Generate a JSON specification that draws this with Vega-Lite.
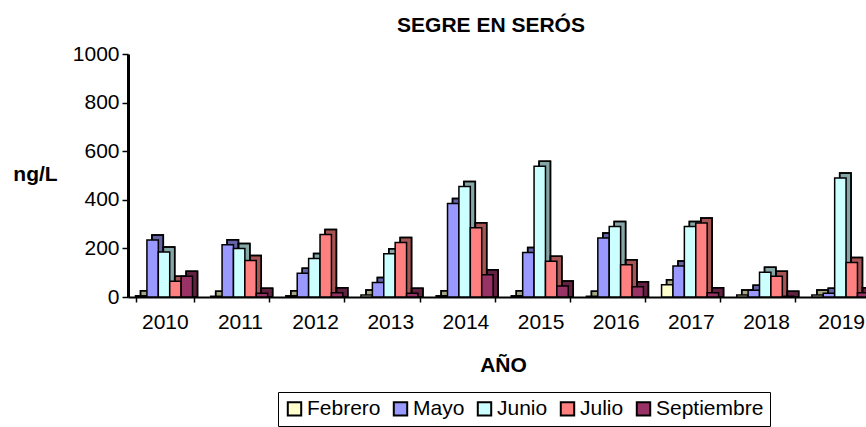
{
  "$schema": "https://vega.github.io/schema/vega-lite/v6.json",
  "autosize": "none",
  "width": 750,
  "height": 243,
  "padding": {"left": 128, "top": 54, "right": 0, "bottom": 130},
  "background": "white",
  "config": {
    "font": "Liberation Sans",
    "view": {"stroke": null}
  },
  "title": {
    "text": "SEGRE EN SERÓS",
    "font": "Liberation Sans",
    "fontSize": 21,
    "fontWeight": "bold",
    "color": "black",
    "anchor": "middle",
    "offset": 7,
    "dx": -12
  },
  "data": {
    "values": [
      {"year": "2010", "mes": "Febrero", "v": 5},
      {"year": "2010", "mes": "Mayo", "v": 235},
      {"year": "2010", "mes": "Junio", "v": 185},
      {"year": "2010", "mes": "Julio", "v": 65},
      {"year": "2010", "mes": "Septiembre", "v": 85},
      {"year": "2011", "mes": "Febrero", "v": 3},
      {"year": "2011", "mes": "Mayo", "v": 215},
      {"year": "2011", "mes": "Junio", "v": 200},
      {"year": "2011", "mes": "Julio", "v": 150},
      {"year": "2011", "mes": "Septiembre", "v": 15},
      {"year": "2012", "mes": "Febrero", "v": 5},
      {"year": "2012", "mes": "Mayo", "v": 98},
      {"year": "2012", "mes": "Junio", "v": 158},
      {"year": "2012", "mes": "Julio", "v": 257},
      {"year": "2012", "mes": "Septiembre", "v": 18},
      {"year": "2013", "mes": "Febrero", "v": 8},
      {"year": "2013", "mes": "Mayo", "v": 60},
      {"year": "2013", "mes": "Junio", "v": 178},
      {"year": "2013", "mes": "Julio", "v": 224},
      {"year": "2013", "mes": "Septiembre", "v": 15},
      {"year": "2014", "mes": "Febrero", "v": 5},
      {"year": "2014", "mes": "Mayo", "v": 385},
      {"year": "2014", "mes": "Junio", "v": 455},
      {"year": "2014", "mes": "Julio", "v": 285},
      {"year": "2014", "mes": "Septiembre", "v": 92},
      {"year": "2015", "mes": "Febrero", "v": 5},
      {"year": "2015", "mes": "Mayo", "v": 183},
      {"year": "2015", "mes": "Junio", "v": 538},
      {"year": "2015", "mes": "Julio", "v": 147},
      {"year": "2015", "mes": "Septiembre", "v": 45},
      {"year": "2016", "mes": "Febrero", "v": 3},
      {"year": "2016", "mes": "Mayo", "v": 243},
      {"year": "2016", "mes": "Junio", "v": 290},
      {"year": "2016", "mes": "Julio", "v": 133},
      {"year": "2016", "mes": "Septiembre", "v": 42},
      {"year": "2017", "mes": "Febrero", "v": 50},
      {"year": "2017", "mes": "Mayo", "v": 128},
      {"year": "2017", "mes": "Junio", "v": 290},
      {"year": "2017", "mes": "Julio", "v": 305},
      {"year": "2017", "mes": "Septiembre", "v": 18},
      {"year": "2018", "mes": "Febrero", "v": 8},
      {"year": "2018", "mes": "Mayo", "v": 28},
      {"year": "2018", "mes": "Junio", "v": 102},
      {"year": "2018", "mes": "Julio", "v": 85},
      {"year": "2018", "mes": "Septiembre", "v": 3},
      {"year": "2019", "mes": "Febrero", "v": 8},
      {"year": "2019", "mes": "Mayo", "v": 15},
      {"year": "2019", "mes": "Junio", "v": 490},
      {"year": "2019", "mes": "Julio", "v": 142},
      {"year": "2019", "mes": "Septiembre", "v": 18}
    ]
  },
  "encoding": {
    "x": {
      "field": "year",
      "type": "nominal",
      "scale": {"paddingInner": 0.22, "paddingOuter": 0.1},
      "axis": {
        "title": "AÑO",
        "titleFont": "Liberation Sans",
        "titleFontSize": 21,
        "titleFontWeight": "bold",
        "titleColor": "black",
        "titleY": 68,
        "titleBaseline": "middle",
        "labelFont": "Liberation Sans",
        "labelFontSize": 21,
        "labelColor": "black",
        "labelAngle": 0,
        "labelPadding": 9,
        "tickBand": "extent",
        "tickColor": "black",
        "tickSize": 5,
        "tickWidth": 1.5,
        "domainColor": "black",
        "domainWidth": 2
      }
    },
    "y": {
      "field": "v",
      "type": "quantitative",
      "stack": null,
      "scale": {"domain": [0, 1000]},
      "axis": {
        "title": "ng/L",
        "titleAngle": 0,
        "titleX": -93,
        "titleY": 120,
        "titleAlign": "center",
        "titleBaseline": "middle",
        "titleFont": "Liberation Sans",
        "titleFontSize": 21,
        "titleFontWeight": "bold",
        "titleColor": "black",
        "values": [0, 200, 400, 600, 800, 1000],
        "format": "d",
        "grid": false,
        "labelFont": "Liberation Sans",
        "labelFontSize": 21,
        "labelColor": "black",
        "labelPadding": 3,
        "tickColor": "black",
        "tickSize": 6,
        "tickWidth": 1.5,
        "domainColor": "black",
        "domainWidth": 3
      }
    }
  },
  "layer": [
    {
      "mark": {"type": "bar", "stroke": "black", "strokeWidth": 1.5, "yOffset": -5, "y2Offset": -5},
      "encoding": {
        "xOffset": {"field": "mes", "type": "nominal", "sort": ["Febrero", "Mayo", "Junio", "Julio", "Septiembre"], "scale": {"range": [5, 62]}},
        "color": {
          "field": "mes",
          "type": "nominal",
          "sort": ["Febrero", "Mayo", "Junio", "Julio", "Septiembre"],
          "scale": {
            "domain": ["Febrero", "Mayo", "Junio", "Julio", "Septiembre"],
            "range": ["#FFFFCC", "#9999FF", "#CCFFFF", "#FF8080", "#993366"]
          }
        }
      }
    },
    {
      "mark": {"type": "bar", "fill": "black", "fillOpacity": 0.35, "stroke": "black", "strokeWidth": 1.5, "yOffset": -5, "y2Offset": -5},
      "encoding": {
        "xOffset": {"field": "mes", "type": "nominal", "sort": ["Febrero", "Mayo", "Junio", "Julio", "Septiembre"], "scale": {"range": [5, 62]}},
        "detail": {"field": "mes"}
      }
    },
    {
      "mark": {"type": "bar", "stroke": "black", "strokeWidth": 1.5},
      "encoding": {
        "xOffset": {"field": "mes", "type": "nominal", "sort": ["Febrero", "Mayo", "Junio", "Julio", "Septiembre"], "scale": {"range": [0, 57]}},
        "color": {
          "field": "mes",
          "type": "nominal",
          "sort": ["Febrero", "Mayo", "Junio", "Julio", "Septiembre"],
          "scale": {
            "domain": ["Febrero", "Mayo", "Junio", "Julio", "Septiembre"],
            "range": ["#FFFFCC", "#9999FF", "#CCFFFF", "#FF8080", "#993366"]
          },
          "legend": {
            "title": null,
            "orient": "none",
            "direction": "horizontal",
            "legendX": 150,
            "legendY": 338,
            "strokeColor": "black",
            "padding": 6,
            "symbolType": "square",
            "symbolSize": 180,
            "symbolStrokeColor": "black",
            "symbolStrokeWidth": 2,
            "symbolOpacity": 1,
            "labelFont": "Liberation Sans",
            "labelFontSize": 21,
            "labelColor": "black",
            "labelOffset": 2,
            "columnPadding": 8
          }
        }
      }
    }
  ],
  "resolve": {"scale": {"xOffset": "independent"}}
}
